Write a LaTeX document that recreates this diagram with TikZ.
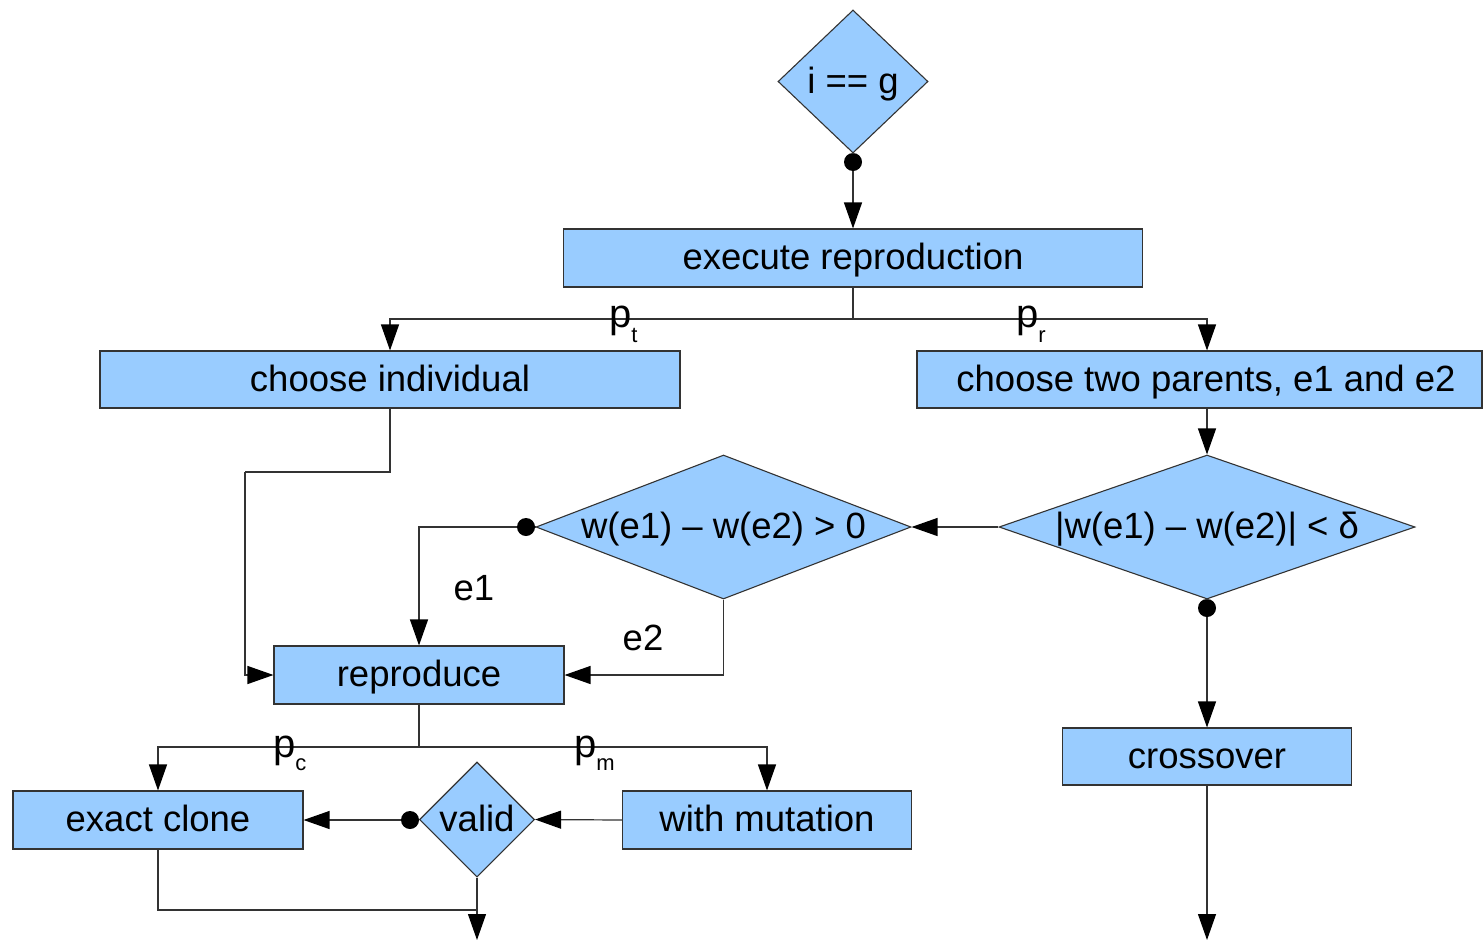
\documentclass[tikz,border=0pt]{standalone}
\usepackage{fontspec}
\setmainfont{Liberation Sans}
\usetikzlibrary{arrows.meta,shapes.geometric}
\definecolor{boxblue}{HTML}{99CCFF}
\definecolor{edgec}{HTML}{333333}
\begin{document}
\begin{tikzpicture}[x=1pt,y=-1pt,
  every node/.style={font=\fontsize{36.5}{40}\selectfont},
  box/.style={draw=edgec, line width=1.1pt, fill=boxblue, rectangle, inner sep=0pt, text height=23pt, text depth=0pt},
  dia/.style={draw=edgec, line width=1.1pt, fill=boxblue, diamond, inner sep=0pt, text height=23pt, text depth=0pt},
  dot/.style={circle, fill=black, inner sep=0pt, minimum size=18pt},
  conn/.style={draw=edgec, line width=1.2pt},
  arr/.style={conn, -{Triangle[length=26pt,width=18pt,color=black]}},
  lbl/.style={inner sep=0pt, anchor=base west},
  elbl/.style={inner sep=0pt, anchor=base},
]
\useasboundingbox (0,0) rectangle (1483,940);

% shapes
\node[dia, minimum width=150pt, minimum height=143pt] (g) at (853,81.5) {\makebox[0pt]{i == g}};
\node[box, minimum width=579pt, minimum height=58pt] (exec) at (853,258) {execute reproduction};
\node[box, minimum width=580pt, minimum height=57pt] (ind) at (390,379.5) {choose individual};
\node[box, minimum width=565pt, minimum height=57pt] (par) at (1199.5,379.5) {\hspace*{13pt}choose two parents, e1 and e2};
\node[dia, minimum width=416pt, minimum height=144pt] (abs) at (1207,527) {\makebox[0pt]{|w(e1) – w(e2)| < δ}};
\node[dia, minimum width=375pt, minimum height=144pt] (cmp) at (723.5,527) {\makebox[0pt]{w(e1) – w(e2) > 0}};
\node[box, minimum width=290pt, minimum height=58pt] (rep) at (419,675) {reproduce};
\node[box, minimum width=289pt, minimum height=57pt] (cross) at (1207,756.5) {crossover};
\node[box, minimum width=290pt, minimum height=58pt] (clone) at (158,820) {exact clone};
\node[box, minimum width=289pt, minimum height=58pt] (mut) at (767,820) {with mutation};
\node[dia, minimum width=115pt, minimum height=115pt] (valid) at (477,819.5) {\makebox[0pt]{valid}};

% dots
\node[dot] (d1) at (853,162) {};
\node[dot] (d2) at (526,527) {};
\node[dot] (d3) at (1207,608) {};
\node[dot] (d4) at (410,820) {};

% helper coordinates
\coordinate (j1) at (853,319);
\coordinate (c1) at (245,472);
\coordinate (j2) at (419,747);
\coordinate (j3) at (477,910);
\coordinate (endA) at (477,940);
\coordinate (endB) at (1207,940);

% connectors
\draw[conn] (g.south) -- (d1);
\draw[arr] (d1) -- (exec.north);
\draw[conn] (exec.south) -- (j1);
\draw[arr] (j1) -| (ind.north);
\draw[arr] (j1) -| (par.north -| abs.north);
\draw[conn] (ind.south) |- (c1);
\draw[arr] (c1) |- (rep.west);
\draw[arr] (par.south -| abs.north) -- (abs.north);
\draw[arr] (abs.west) -- (cmp.east);
\draw[conn] (cmp.west) -- (d2);
\draw[arr] (d2) -| (rep.north);
\draw[arr] (cmp.south) |- (rep.east);
\draw[conn] (abs.south) -- (d3);
\draw[arr] (d3) -- (cross.north);
\draw[arr] (cross.south) -- (endB);
\draw[conn] (rep.south) -- (j2);
\draw[arr] (j2) -| (clone.north);
\draw[arr] (j2) -| (mut.north);
\draw[arr] (mut.west) -- (valid.east);
\draw[conn] (valid.west) -- (d4);
\draw[arr] (d4) -- (clone.east);
\draw[arr] (valid.south) -- (endA);
\draw[conn] (clone.south) |- (j3);

% labels
\node[lbl] (pt) at (609,327) {\fontsize{40}{40}\selectfont p\raisebox{-15pt}{\fontsize{22}{22}\selectfont t}};
\node[lbl] (pr) at (1016,327) {\fontsize{40}{40}\selectfont p\raisebox{-15pt}{\fontsize{22}{22}\selectfont r}};
\node[lbl] (pc) at (273,757) {\fontsize{40}{40}\selectfont p\raisebox{-13pt}{\fontsize{22}{22}\selectfont c}};
\node[lbl] (pm) at (574,757) {\fontsize{40}{40}\selectfont p\raisebox{-13pt}{\fontsize{22}{22}\selectfont m}};
\node[elbl] (e1) at (474,600) {e1};
\node[elbl] (e2) at (643,650) {e2};
\end{tikzpicture}
\end{document}
